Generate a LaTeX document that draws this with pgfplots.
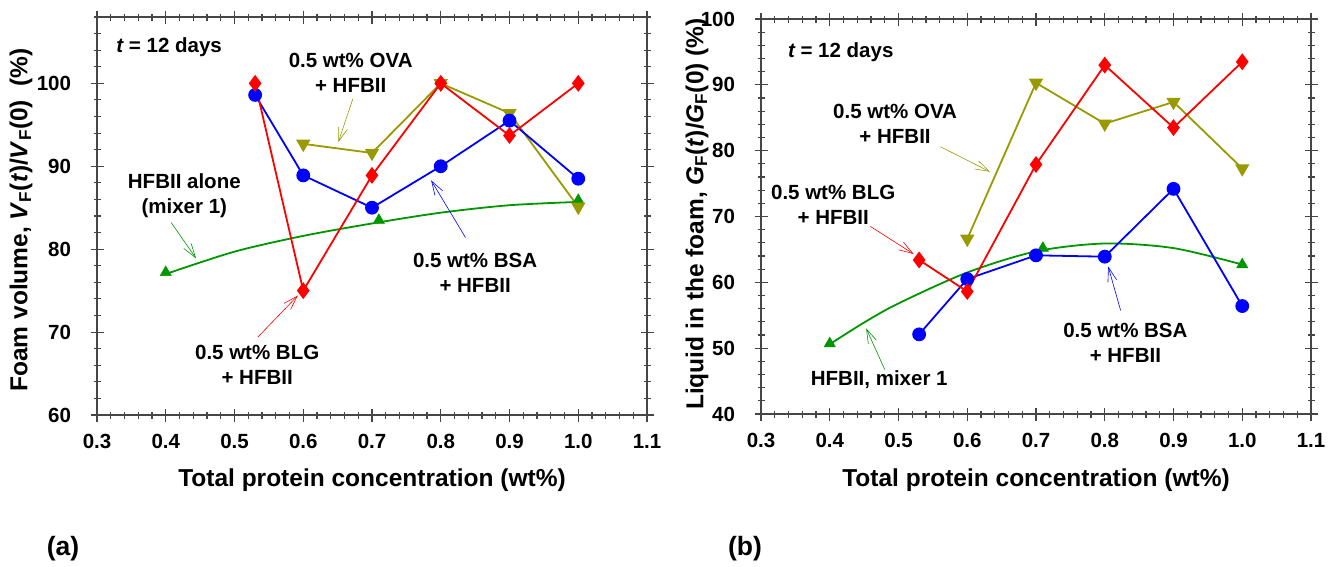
\documentclass[border=0pt]{standalone}
\usepackage{fontspec}
\setmainfont{Liberation Sans}
\usepackage{pgfplots}
\pgfplotsset{compat=1.18}
\usetikzlibrary{arrows.meta}

\definecolor{cred}{RGB}{255,0,0}
\definecolor{cblue}{RGB}{0,0,255}
\definecolor{colive}{RGB}{153,153,0}
\definecolor{cgreen}{RGB}{0,150,0}
\definecolor{caxis}{RGB}{70,70,70}

\tikzset{
  ann/.style={font=\bfseries\fontsize{20.5}{25}\selectfont, align=center},
  arr/.style={line width=0.6pt, -{Straight Barb[length=14pt,width=9pt,line width=0.6pt]}},
}
\pgfplotsset{
  /pgf/number format/assume math mode=true,
  myax/.style={
    scale only axis,
    width=550pt,
    xmin=0.3, xmax=1.1,
    xtick={0.3,0.4,0.5,0.6,0.7,0.8,0.9,1.0,1.1},
    minor xtick={0.32,0.34,0.36,0.38,0.42,0.44,0.46,0.48,0.52,0.54,0.56,0.58,0.62,0.64,0.66,0.68,0.72,0.74,0.76,0.78,0.82,0.84,0.86,0.88,0.92,0.94,0.96,0.98,1.02,1.04,1.06,1.08},
    tick align=center,
    major tick length=13pt,
    minor tick length=7pt,
    axis line style={line width=1.2pt, caxis},
    every tick/.style={line width=1.1pt, caxis},
    tick label style={font=\bfseries\fontsize{20.5}{20.5}\selectfont},
    x tick label style={/pgf/number format/fixed, /pgf/number format/fixed zerofill, /pgf/number format/precision=1, yshift=-9pt},
    y tick label style={xshift=-16pt},
    clip=false,
  },
  ser/.style={line width=1.8pt, mark size=6.5pt, mark options={solid}},
}

\begin{document}
\begin{tikzpicture}
\useasboundingbox (0,0) rectangle (1337pt,566pt);

% ---------------- panel (a) ----------------
\begin{axis}[myax, at={(97pt,151pt)}, anchor=south west, height=398pt,
  ymin=60, ymax=108, ytick={60,70,80,90,100},
  minor ytick={62,64,66,68,72,74,76,78,82,84,86,88,92,94,96,98,102,104,106,108}]
  % HFBII alone fit curve
  \addplot[cgreen, line width=1.8pt, smooth, no marks] coordinates {
    (0.40,77.0) (0.50,79.7) (0.60,81.6) (0.70,83.1) (0.80,84.4) (0.90,85.3) (1.00,85.7)};
  \addplot[cgreen, only marks, mark=triangle*, mark size=6.5pt] coordinates {
    (0.40,77.2) (0.71,83.5) (1.00,85.9)};
  % OVA
  \addplot[ser, colive, mark=triangle*, mark options={rotate=180}] coordinates {
    (0.6,92.7) (0.7,91.6) (0.8,100.0) (0.9,96.4) (1.0,85.1)};
  % BSA
  \addplot[ser, cblue, mark=*, mark size=6pt] coordinates {
    (0.53,98.6) (0.6,88.9) (0.7,85.0) (0.8,90.0) (0.9,95.5) (1.0,88.5)};
  % BLG
  \addplot[ser, cred, mark=diamond*, mark size=7pt] coordinates {
    (0.53,100.0) (0.6,75.0) (0.7,88.9) (0.8,100.0) (0.9,93.7) (1.0,100.0)};

  \node[ann, anchor=west, inner sep=0pt] at (axis cs:0.328,104.3) {{\itshape t} = 12 days};
  \node[ann] at (axis cs:0.669,101.3) {0.5 wt\% OVA\\+ HFBII};
  \draw[arr, colive] (axis cs:0.672,98.1) -- (axis cs:0.651,92.9);
  \node[ann] at (axis cs:0.427,86.4) {HFBII alone\\(mixer 1)};
  \draw[arr, cgreen] (axis cs:0.408,83.2) -- (axis cs:0.444,78.9);
  \node[ann] at (axis cs:0.850,77.2) {0.5 wt\% BSA\\+ HFBII};
  \draw[arr, cblue] (axis cs:0.836,81.4) -- (axis cs:0.786,88.3);
  \node[ann] at (axis cs:0.533,66.1) {0.5 wt\% BLG\\+ HFBII};
  \draw[arr, cred] (axis cs:0.534,69.4) -- (axis cs:0.592,74.4);
\end{axis}

% ---------------- panel (b) ----------------
\begin{axis}[myax, at={(761pt,152pt)}, anchor=south west, height=395pt,
  ymin=40, ymax=100, ytick={40,50,60,70,80,90,100},
  minor ytick={42,44,46,48,52,54,56,58,62,64,66,68,72,74,76,78,82,84,86,88,92,94,96,98}]
  \addplot[cgreen, line width=1.8pt, smooth, no marks] coordinates {
    (0.40,50.6) (0.45,53.9) (0.50,56.8) (0.60,61.5) (0.70,64.7) (0.80,65.9) (0.90,65.2) (1.00,62.7)};
  \addplot[cgreen, only marks, mark=triangle*, mark size=6.5pt] coordinates {
    (0.40,50.7) (0.71,65.2) (1.00,62.7)};
  \addplot[ser, colive, mark=triangle*, mark options={rotate=180}] coordinates {
    (0.6,66.6) (0.7,90.3) (0.8,84.1) (0.9,87.4) (1.0,77.3)};
  \addplot[ser, cblue, mark=*, mark size=6pt] coordinates {
    (0.53,52.1) (0.6,60.5) (0.7,64.1) (0.8,63.9) (0.9,74.2) (1.0,56.4)};
  \addplot[ser, cred, mark=diamond*, mark size=7pt] coordinates {
    (0.53,63.4) (0.6,58.6) (0.7,77.9) (0.8,93.0) (0.9,83.5) (1.0,93.5)};

  \node[ann, anchor=west, inner sep=0pt] at (axis cs:0.339,95.0) {{\itshape t} = 12 days};
  \node[ann] at (axis cs:0.495,84.0) {0.5 wt\% OVA\\+ HFBII};
  \draw[arr, colive] (axis cs:0.561,80.6) -- (axis cs:0.633,76.8);
  \node[ann] at (axis cs:0.405,71.7) {0.5 wt\% BLG\\+ HFBII};
  \draw[arr, cred] (axis cs:0.459,68.5) -- (axis cs:0.522,64.3);
  \node[ann] at (axis cs:0.830,50.8) {0.5 wt\% BSA\\+ HFBII};
  \draw[arr, cblue] (axis cs:0.823,55.75) -- (axis cs:0.805,62.4);
  \node[ann] at (axis cs:0.472,45.25) {HFBII, mixer 1};
  \draw[arr, cgreen] (axis cs:0.480,46.75) -- (axis cs:0.453,53.0);
\end{axis}

% axis labels
\node[font=\bfseries\fontsize{24.5}{26}\selectfont] at (372pt,86pt) {Total protein concentration (wt\%)};
\node[font=\bfseries\fontsize{24.5}{26}\selectfont] at (1036pt,86pt) {Total protein concentration (wt\%)};
\node[font=\bfseries\fontsize{24.5}{26}\selectfont, rotate=90] at (21pt,346pt)
  {Foam volume, \textit{V}\textsubscript{F}(\textit{t})/\textit{V}\textsubscript{F}(0)\ \ (\%)};
\node[font=\bfseries\fontsize{24.5}{26}\selectfont, rotate=90] at (697pt,352pt)
  {Liquid in the foam, \textit{G}\textsubscript{F}(\textit{t})/\textit{G}\textsubscript{F}(0) (\%)};
\node[font=\bfseries\fontsize{26.5}{28}\selectfont] at (63pt,17pt) {(a)};
\node[font=\bfseries\fontsize{26.5}{28}\selectfont] at (745pt,17pt) {(b)};
\end{tikzpicture}
\end{document}
